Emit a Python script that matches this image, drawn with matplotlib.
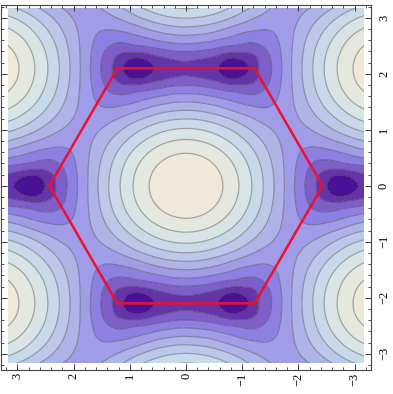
import numpy as np
import matplotlib
matplotlib.use("Agg")
import matplotlib.pyplot as plt
import matplotlib.tri as mtri
from matplotlib.patches import Rectangle

x_vals = [0.0, 0.29, 0.58, 0.87, 1.16, 1.45, 1.8, 2.1, 2.45, 2.76, 3.05, 3.35]
y_vals = [0.0, 0.3, 0.6, 0.9, 1.2, 1.5, 1.8, 2.1, 2.4, 2.7, 3.0, 3.3]

# field height at those positions, one row per y
field = [
    [3.458, 3.395, 3.211, 2.917, 2.531, 2.078, 1.482, 0.967, 0.412, 0.000, 0.297, 0.485],
    [3.373, 3.311, 3.131, 2.843, 2.468, 2.034, 1.480, 1.039, 0.688, 0.651, 0.773, 0.894],
    [3.123, 3.064, 2.894, 2.626, 2.285, 1.906, 1.473, 1.215, 1.151, 1.270, 1.423, 1.542],
    [2.721, 2.668, 2.514, 2.277, 1.990, 1.705, 1.464, 1.433, 1.598, 1.824, 2.021, 2.158],
    [2.191, 2.144, 2.009, 1.813, 1.602, 1.449, 1.453, 1.641, 1.979, 2.287, 2.524, 2.681],
    [1.569, 1.526, 1.410, 1.258, 1.145, 1.173, 1.443, 1.807, 2.267, 2.634, 2.902, 3.075],
    [0.924, 0.879, 0.760, 0.640, 0.669, 0.936, 1.437, 1.913, 2.446, 2.848, 3.136, 3.320],
    [0.542, 0.480, 0.295, 0.000, 0.385, 0.838, 1.434, 1.949, 2.505, 2.919, 3.213, 3.400],
    [0.947, 0.902, 0.784, 0.663, 0.686, 0.943, 1.437, 1.910, 2.441, 2.843, 3.130, 3.313],
    [1.595, 1.552, 1.435, 1.281, 1.164, 1.183, 1.444, 1.802, 2.258, 2.623, 2.890, 3.062],
    [2.213, 2.165, 2.030, 1.832, 1.618, 1.459, 1.453, 1.634, 1.966, 2.271, 2.507, 2.663],
    [2.738, 2.685, 2.530, 2.292, 2.003, 1.713, 1.464, 1.425, 1.582, 1.805, 2.000, 2.137],
]

# contour heights and the band colours between them
levels = [-0.1, 0.314, 0.629, 0.943, 1.258, 1.572, 1.886, 2.201, 2.515, 2.830, 3.144, 3.6]
band_colors = ["#4a1096", "#6634aa", "#7e5ec8", "#8e80e2", "#a09ce8", "#aeb4e8",
               "#bcc8ea", "#c8dae9", "#d8e4e6", "#e4e8de", "#f0e8d8"]

# red hexagon
hex_x = [2.43, 1.22, -1.22, -2.43, -1.22, 1.22, 2.43]
hex_y = [0.0, 2.1, 2.1, 0.0, -2.1, -2.1, 0.0]

major_ticks = [-3, -2, -1, 0, 1, 2, 3]
tick_text = ["\u22123", "\u22122", "\u22121", "0", "1", "2", "3"]

# mirror the quadrant into the whole plane
half = np.array(field)
top = np.hstack([half[:, :0:-1], half])
whole = np.vstack([top[:0:-1], top])
xs = np.array(x_vals)
ys = np.array(y_vals)
gx, gy = np.meshgrid(np.r_[-xs[:0:-1], xs], np.r_[-ys[:0:-1], ys])

tri = mtri.Triangulation(gx.ravel(), gy.ravel())
fine_tri, fine_z = mtri.UniformTriRefiner(tri).refine_field(whole.ravel(), subdiv=3)

fig = plt.figure(figsize=(3.93, 3.94), dpi=100)
ax = fig.add_axes([1 / 393, 1 - 370 / 394, 370 / 393, 365 / 394])

clip = Rectangle((-3.16, -3.16), 6.32, 6.34, transform=ax.transData)
filled = ax.tricontourf(fine_tri, fine_z, levels=levels, colors=band_colors)
filled.set_clip_path(clip)
lines = ax.tricontour(fine_tri, fine_z, levels=levels[1:-1], colors="#444444",
                      linewidths=0.9, alpha=0.42)
lines.set_clip_path(clip)

ax.plot(hex_x, hex_y, color="#ee1030", lw=1.8, solid_joinstyle="miter")

ax.set_xlim(3.29, -3.29)
ax.set_ylim(-3.29, 3.23)

ax.set_xticks(major_ticks)
ax.set_xticklabels(tick_text, rotation=90, fontsize=9, family="Liberation Serif")
ax.set_yticks(major_ticks)
ax.set_yticklabels(tick_text, rotation=90, va="center", fontsize=9, family="Liberation Serif")
ax.set_xticks(np.arange(-32, 33, 2) / 10, minor=True)
ax.set_yticks(np.arange(-32, 33, 2) / 10, minor=True)
ax.tick_params(which="major", direction="in", length=4, width=0.7, top=True, bottom=True,
               left=True, right=True, labelleft=False, labelright=True, color="#333333")
ax.tick_params(axis="x", which="major", pad=2)
ax.tick_params(axis="y", which="major", pad=5)
ax.tick_params(which="minor", direction="in", length=2, width=0.6, top=True, bottom=True,
               left=True, right=True, color="#333333")
for s in ax.spines.values():
    s.set_linewidth(0.8)
    s.set_color("#444444")

fig.savefig("out.png", dpi=100)
